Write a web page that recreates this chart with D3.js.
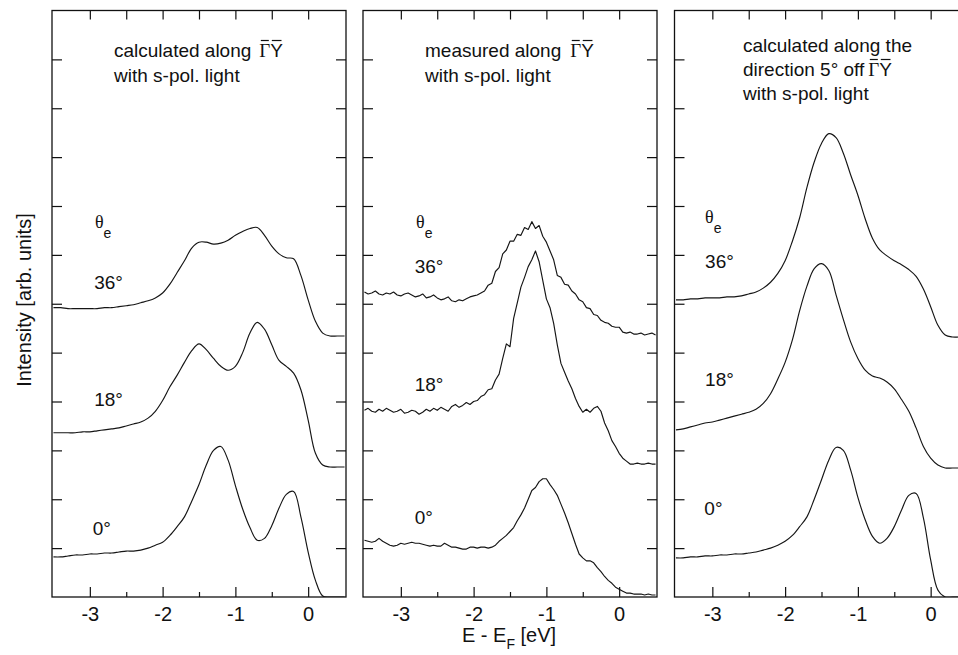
<!DOCTYPE html>
<html>
<head>
<meta charset="utf-8">
<script src="https://cdn.jsdelivr.net/npm/d3@7"></script>
<style>
  body { margin: 0; background: #fff; }
  svg text { font-family: "Liberation Sans", Arial, Helvetica, sans-serif; fill: #111; }
</style>
</head>
<body>
<svg id="chart" width="958" height="655"></svg>
<script>
// Binding energies E - E_F [eV] on which the spectra are sampled
const energyCalc = [-3.5,-3.4,-3.3,-3.2,-3.1,-3.0,-2.9,-2.8,-2.7,-2.6,-2.5,-2.4,-2.3,-2.2,-2.1,-2.0,-1.9,-1.8,-1.7,-1.6,
  -1.5,-1.4,-1.3,-1.2,-1.1,-1.0,-0.9,-0.8,-0.7,-0.6,-0.5,-0.4,-0.3,-0.2,-0.1,0.0,0.1,0.2,0.3,0.4,0.5];
const energyMeas = [-3.5,-3.45,-3.4,-3.35,-3.3,-3.25,-3.2,-3.15,-3.1,-3.05,-3.0,-2.95,-2.9,-2.85,-2.8,-2.75,-2.7,-2.65,-2.6,-2.55,
  -2.5,-2.45,-2.4,-2.35,-2.3,-2.25,-2.2,-2.15,-2.1,-2.05,-2.0,-1.95,-1.9,-1.85,-1.8,-1.75,-1.7,-1.65,-1.6,-1.55,
  -1.5,-1.45,-1.4,-1.35,-1.3,-1.25,-1.2,-1.15,-1.1,-1.05,-1.0,-0.95,-0.9,-0.85,-0.8,-0.75,-0.7,-0.65,-0.6,-0.55,
  -0.5,-0.45,-0.4,-0.35,-0.3,-0.25,-0.2,-0.15,-0.1,-0.05,0.0,0.05,0.1,0.15,0.2,0.25,0.3,0.35,0.4,0.45,0.5];

// Emission angles of the three spectra in every panel (top to bottom)
const angleLabels = ["36°", "18°", "0°"];

// Calculated along Gamma-Y (stacked intensities, arb. units)
const calcAlong36 = [296,296,295,295,295,295,295,296,296,297,298,299,301,303,306,311,320,332,344,357,
  363,363,361,362,365,370,374,377,378,370,359,351,347,346,329,304,282,270,267,267,267];
const calcAlong18 = [168,168,168,168,169,169,170,171,172,173,175,177,179,183,190,201,215,227,240,252,
  259,253,244,236,232,236,250,270,281,274,258,242,236,229,212,181,147,135,133,133,133];
const calcAlong0 = [41,41,42,43,43,44,44,45,45,46,47,47,48,50,53,56,63,72,82,98,
  115,135,150,154,140,114,90,71,58,60,73,91,105,108,82,46,17,1,0,0,0];

// Measured along Gamma-Y
const meas36 = [312,310,311,313,310,309,311,310,312,309,308,310,311,309,307,308,310,306,307,309,
  306,304,305,307,303,302,304,303,305,307,308,309,311,313,319,321,333,337,351,355,
  364,364,371,370,378,376,384,377,380,369,363,354,345,329,327,320,319,313,310,304,
  302,296,295,289,288,283,281,280,277,276,276,271,270,271,269,269,270,268,269,270,268];
const meas18 = [191,193,190,189,192,190,193,191,189,190,192,188,189,191,190,187,189,192,190,193,
  191,194,192,190,195,197,194,196,199,197,200,201,205,207,212,213,222,228,244,259,
  256,285,301,317,327,338,345,354,343,324,305,296,280,258,239,230,221,213,203,195,
  189,192,189,193,195,190,178,170,160,154,147,142,139,136,136,137,136,136,137,136,136];
const meas0 = [58,57,56,57,60,57,55,53,52,53,55,54,55,56,55,55,54,53,52,53,
  52,52,55,53,51,51,50,49,49,51,51,50,51,51,50,51,53,57,60,63,
  67,71,78,84,91,100,109,112,118,121,121,115,110,104,95,86,76,65,54,44,
  40,37,37,35,30,26,21,17,14,10,8,6,4,4,3,3,3,2,3,2,2];

// Calculated along the direction 5° off Gamma-Y
const calcOff36 = [304,304,305,305,306,306,306,307,307,308,310,312,316,322,331,344,364,388,419,445,
  464,474,470,454,432,411,387,367,355,349,344,340,335,328,315,297,278,268,266,266,266];
const calcOff18 = [171,172,174,176,178,179,181,183,185,187,189,192,198,208,223,240,263,293,318,336,
  341,334,309,284,261,244,232,226,224,220,213,202,190,173,154,142,135,132,132,132,132];
const calcOff0 = [40,40,41,41,42,42,43,43,44,44,45,46,48,50,53,57,63,72,82,100,
  120,140,153,150,130,102,79,62,55,60,72,89,104,106,81,38,7,0,0,0,0];

// Axis ticks
const majorTicks = [-3, -2, -1, 0];
const minorTicks = [-2.5, -1.5, -0.5];
const topTicks = [-3, -2.5, -2, -1.5, -1, -0.5, 0];
const intensityTicks = [50, 100, 150, 200, 250, 300, 350, 400, 450, 500, 550];

// Panel titles; the line carrying the Gamma-Y symbol is flagged per panel
const panelTitles = [
  ["calculated along", "with s-pol. light"],
  ["measured along", "with s-pol. light"],
  ["calculated along the", "direction 5° off", "with s-pol. light"]
];
// theta_e and angle label anchors (E, intensity)
const thetaAnchors = [[-2.93, 378], [-2.79, 377], [-3.10, 383]];
const angleAnchors = [
  [[-2.94, 315], [-2.94, 195], [-2.96, 63]],
  [[-2.81, 331], [-2.81, 211], [-2.81, 75]],
  [[-3.10, 337], [-3.10, 216], [-3.11, 84]]
];

const svg = d3.select("#chart");
const plotTop = 10.5, plotBottom = 597, panelW = 294;
const y = d3.scaleLinear().domain([0, 600]).range([plotBottom, plotTop]);

const panels = [
  { left: 52,    energies: energyCalc, series: [calcAlong36, calcAlong18, calcAlong0], smooth: true,
    titleX: 114, titleY: [57, 82], gyLine: 0, gyGap: 8 },
  { left: 363,   energies: energyMeas, series: [meas36, meas18, meas0], smooth: false,
    titleX: 425, titleY: [57, 82], gyLine: 0, gyGap: 9 },
  { left: 674.5, energies: energyCalc, series: [calcOff36, calcOff18, calcOff0], smooth: true,
    titleX: 743, titleY: [52, 76, 100], gyLine: 1, gyGap: 4 }
];

// Appends a bar-topped "ΓY" to a title line
function gammaY(g, textSel, gap, yb) {
  const start = textSel.text().length;
  textSel.append("tspan").attr("dx", gap).text("Γ")
    .style("font-family", "'Liberation Serif', 'Times New Roman', serif");
  textSel.append("tspan").text("Y");
  const node = textSel.node();
  [start, start + 1].forEach(i => {
    const b = node.getExtentOfChar(i);
    g.append("line")
      .attr("x1", b.x + 1.5).attr("x2", b.x + b.width - 1.5)
      .attr("y1", yb - 16.5).attr("y2", yb - 16.5)
      .attr("stroke", "#111").attr("stroke-width", 1.2);
  });
}

panels.forEach((p, pi) => {
  const x = d3.scaleLinear().domain([-3.52, 0.52]).range([p.left, p.left + panelW]);
  const g = svg.append("g");

  const clipId = "clip" + pi;
  svg.append("clipPath").attr("id", clipId)
    .append("rect").attr("x", p.left).attr("y", plotTop).attr("width", panelW).attr("height", plotBottom - plotTop);

  // spectra
  const line = d3.line()
    .x((d, i) => x(p.energies[i]))
    .y(d => y(d))
    .curve(p.smooth ? d3.curveCatmullRom.alpha(0.5) : d3.curveLinear);
  g.append("g").attr("clip-path", `url(#${clipId})`)
    .selectAll("path").data(p.series).join("path")
    .attr("d", line)
    .attr("fill", "none")
    .attr("stroke", "#151515")
    .attr("stroke-width", 1.15)
    .attr("stroke-linejoin", "round");

  // axes with inward ticks
  const fmt = d => String(d);
  const bottomMajor = g.append("g").attr("transform", `translate(0,${plotBottom})`)
    .call(d3.axisBottom(x).tickValues(majorTicks).tickSize(-10).tickPadding(10).tickFormat(fmt));
  bottomMajor.selectAll("text").style("font-size", "20px").attr("fill", "#111");
  g.append("g").attr("transform", `translate(0,${plotBottom})`)
    .call(d3.axisBottom(x).tickValues(minorTicks).tickSize(-5).tickFormat(""));
  g.append("g").attr("transform", `translate(0,${plotTop})`)
    .call(d3.axisTop(x).tickValues(topTicks).tickSize(-9).tickFormat(""));
  g.append("g").attr("transform", `translate(${p.left},0)`)
    .call(d3.axisLeft(y).tickValues(intensityTicks).tickSize(-10).tickFormat(""));
  g.append("g").attr("transform", `translate(${p.left + panelW},0)`)
    .call(d3.axisRight(y).tickValues(intensityTicks).tickSize(-10).tickFormat(""));
  g.selectAll(".domain").remove();
  g.selectAll(".tick line").attr("stroke", "#111").attr("stroke-width", 1.2);

  // frame
  g.append("rect").attr("x", p.left).attr("y", plotTop).attr("width", panelW).attr("height", plotBottom - plotTop)
    .attr("fill", "none").attr("stroke", "#111").attr("stroke-width", 1.3);

  // title
  panelTitles[pi].forEach((s, li) => {
    const t = g.append("text").attr("x", p.titleX).attr("y", p.titleY[li]).style("font-size", "19px").text(s);
    if (li === p.gyLine) gammaY(g, t, p.gyGap, p.titleY[li]);
  });

  // theta_e
  const th = g.append("text")
    .attr("x", x(thetaAnchors[pi][0])).attr("y", y(thetaAnchors[pi][1]));
  th.append("tspan").text("θ")
    .style("font-family", "'Liberation Serif', 'Times New Roman', serif").style("font-size", "18px");
  th.append("tspan").text("e").attr("dy", 10).style("font-size", "14px");

  // angle labels
  angleLabels.forEach((lab, k) => {
    g.append("text")
      .attr("x", x(angleAnchors[pi][k][0])).attr("y", y(angleAnchors[pi][k][1]))
      .style("font-size", "19px").text(lab);
  });
});

// shared axis titles
const xt = svg.append("text").attr("x", 509).attr("y", 642).attr("text-anchor", "middle").style("font-size", "20px");
xt.append("tspan").text("E - E");
xt.append("tspan").text("F").attr("dy", 7).style("font-size", "14px");
xt.append("tspan").text(" [eV]").attr("dy", -7);

svg.append("text")
  .attr("transform", "translate(31,300) rotate(-90)")
  .attr("text-anchor", "middle")
  .style("font-size", "20px")
  .text("Intensity [arb. units]");
</script>
</body>
</html>
